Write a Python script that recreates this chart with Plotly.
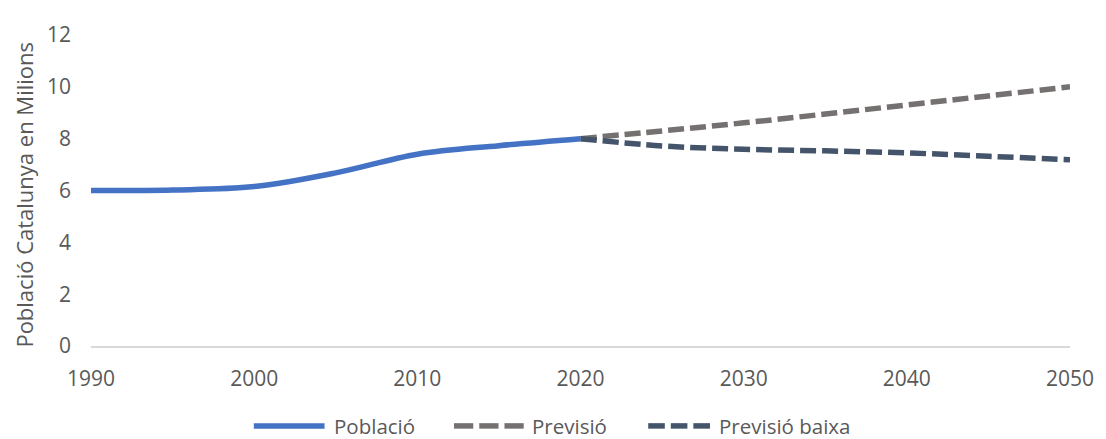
import plotly.graph_objects as go

# ---- data ----
years_hist = [1990, 1995, 2000, 2005, 2010, 2015, 2020]
poblacio = [6.0, 6.02, 6.15, 6.68, 7.4, 7.73, 8.0]

years_prev = [2020, 2025, 2030, 2035, 2040, 2045, 2050]
previsio = [8.0, 8.3, 8.61, 8.95, 9.3, 9.65, 10.0]
previsio_baixa = [8.0, 7.72, 7.59, 7.53, 7.45, 7.32, 7.19]

x_ticks = [1990, 2000, 2010, 2020, 2030, 2040, 2050]
y_ticks = [0, 2, 4, 6, 8, 10, 12]

series_names = ["Població", "Previsió", "Previsió baixa"]
colors = ["#4472C4", "#767171", "#44546A"]

FONT = "Open Sans"
TXT = "#595959"

OFF = 8  # default body margin of the html page
WIN_W, WIN_H = 1106, 439
W, H = WIN_W - OFF, WIN_H - OFF
# plot area in window pixels
PX0, PX1, PY0, PY1 = 90.5, 1073.5, 23, 346
ML, MT = PX0 - OFF, PY0 - OFF
MR, MB = W - (PX1 - OFF), H - (PY1 - OFF)
PW, PH = PX1 - PX0, PY1 - PY0

fig = go.Figure()
fig.add_trace(go.Scatter(x=years_prev, y=previsio, mode="lines", name=series_names[1],
                         line=dict(color=colors[1], width=5.5, dash="16px,6px", shape="spline", smoothing=1)))
fig.add_trace(go.Scatter(x=years_prev, y=previsio_baixa, mode="lines", name=series_names[2],
                         line=dict(color=colors[2], width=5.5, dash="16px,6px", shape="spline", smoothing=1)))
fig.add_trace(go.Scatter(x=years_hist, y=poblacio, mode="lines", name=series_names[0],
                         line=dict(color=colors[0], width=5.5, shape="spline", smoothing=1)))

def px2x(px):
    return (px - PX0) / PW

def py2y(py):
    return (PY1 - py) / PH

shapes = []
annotations = []
ly = py2y(429)
legend_items = [
    (254, 325, 332, series_names[0], colors[0], "solid"),
    (455, 525, 531, series_names[1], colors[1], "dash"),
    (650, 712, 719, series_names[2], colors[2], "dash"),
]
for x0, x1, tx, name, col, style in legend_items:
    if style == "solid":
        shapes.append(dict(type="line", xref="paper", yref="paper", x0=px2x(x0), x1=px2x(x1),
                           y0=ly, y1=ly, line=dict(color=col, width=5.5)))
    else:
        seg = (x1 - x0 - 2 * 6) / 3
        for i in range(3):
            a = x0 + i * (seg + 6)
            shapes.append(dict(type="line", xref="paper", yref="paper", x0=px2x(a), x1=px2x(a + seg),
                               y0=ly, y1=ly, line=dict(color=col, width=5.5)))
    annotations.append(dict(text=name, xref="paper", yref="paper", x=px2x(tx), y=ly,
                            xanchor="left", yanchor="middle", showarrow=False,
                            font=dict(family=FONT, size=20.5, color=TXT)))

annotations.append(dict(text="Població Catalunya en Milions", xref="paper", yref="paper",
                        x=px2x(23), y=py2y(189), textangle=-90, xanchor="center", yanchor="middle",
                        showarrow=False, font=dict(family=FONT, size=22, color=TXT)))

fig.update_layout(
    width=W, height=H,
    margin=dict(l=ML, r=MR, t=MT, b=MB, pad=0),
    plot_bgcolor="white", paper_bgcolor="white",
    showlegend=False,
    shapes=shapes,
    annotations=annotations,
    font=dict(family=FONT, size=21, color=TXT),
    xaxis=dict(range=[1990, 2050], tickvals=x_ticks, ticktext=[str(v) for v in x_ticks],
               showgrid=False, zeroline=False, showline=True, linecolor="#D9D9D9", linewidth=1.5,
               ticks="", ticklabelstandoff=13, tickfont=dict(family=FONT, size=21, color=TXT),
               fixedrange=True),
    yaxis=dict(range=[0, 12], tickvals=y_ticks, ticktext=[str(v) for v in y_ticks],
               showgrid=False, zeroline=False, showline=False,
               ticks="", ticklabelstandoff=19, tickfont=dict(family=FONT, size=21, color=TXT),
               fixedrange=True),
)

fig.write_html("out.html")
